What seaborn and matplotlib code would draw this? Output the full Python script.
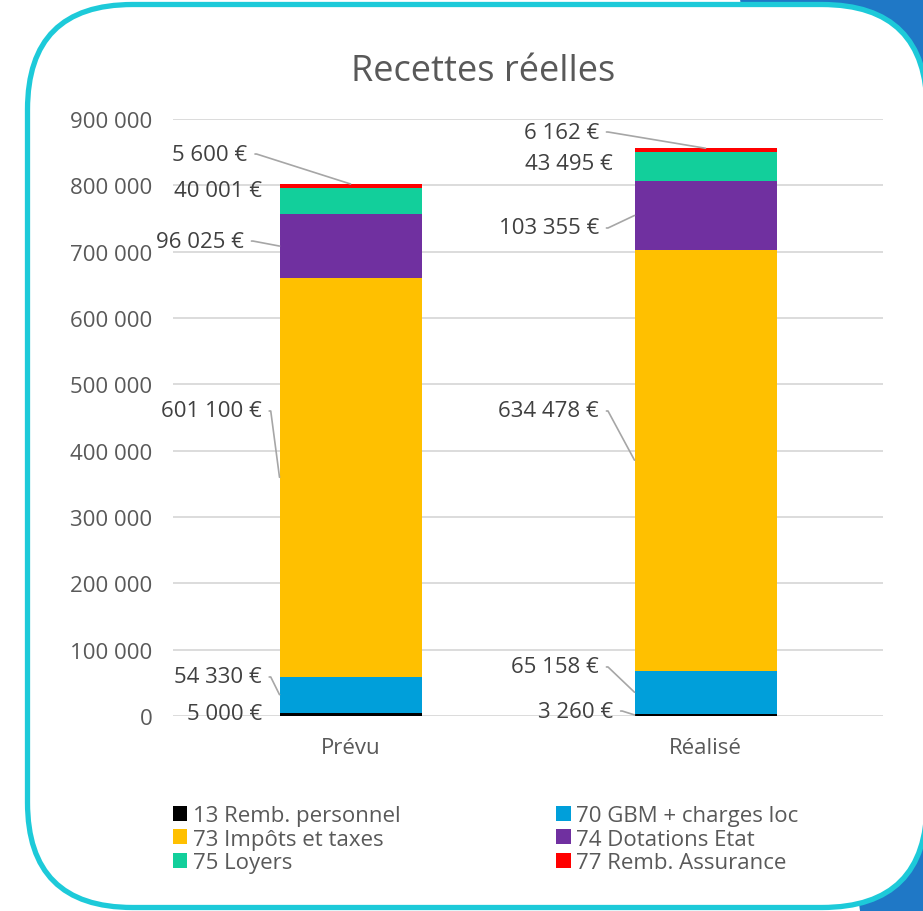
import numpy as np
import pandas as pd
import seaborn as sns
from matplotlib import pyplot as plt
from matplotlib.patches import FancyBboxPatch, Polygon, Patch
from matplotlib.ticker import FuncFormatter

categories = ["Prévu", "Réalisé"]
series = ["13 Remb. personnel", "70 GBM + charges loc", "73 Impôts et taxes",
          "74 Dotations Etat", "75 Loyers", "77 Remb. Assurance"]
remb_personnel = [5000, 3260]
gbm_charges = [54330, 65158]
impots_taxes = [601100, 634478]
dotations_etat = [96025, 103355]
loyers = [40001, 43495]
remb_assurance = [5600, 6162]
colors = ["#000000", "#009FDA", "#FFC000", "#7030A0", "#12CF9B", "#FF0000"]

df = pd.DataFrame({"cat": categories,
                   series[0]: remb_personnel, series[1]: gbm_charges,
                   series[2]: impots_taxes, series[3]: dotations_etat,
                   series[4]: loyers, series[5]: remb_assurance})
tops = df[series].cumsum(axis=1)
bottoms = tops - df[series]

# label placement: (text x, text y, leader target) per series and bar
# target: "top" = top centre of bar, "left" = left edge mid segment, None = no line
label_pos = {
    0: [(-0.25, 4500, None), (0.74, 7500, "left")],
    1: [(-0.25, 58800, "left"), (0.70, 73900, "left")],
    2: [(-0.25, 459800, "left"), (0.70, 459800, "left")],
    3: [(-0.30, 716000, "left"), (0.70, 735700, "left")],
    4: [(-0.25, 791500, None), (0.74, 832200, None)],
    5: [(-0.29, 847200, "top"), (0.70, 880400, "top")],
}

grey = "#595959"
dark = "#404040"
fs = 16
sns.set_style("whitegrid", {"grid.color": "#D9D9D9", "axes.edgecolor": "#D9D9D9"})
plt.rcParams["font.family"] = ["Open Sans", "DejaVu Sans"]

fig = plt.figure(figsize=(9.23, 9.12), dpi=100)
fig.add_artist(Polygon([(7.4, 9.12), (9.23, 9.12), (9.23, 0), (8.6, 0)], closed=True,
                       transform=fig.dpi_scale_trans, facecolor="#1F78C6", edgecolor="none", zorder=-2))
fig.add_artist(FancyBboxPatch((0.275, 0.035), 8.995, 9.03,
                              boxstyle="round,pad=0,rounding_size=1.05",
                              transform=fig.dpi_scale_trans, facecolor="white",
                              edgecolor="#1DCAD9", linewidth=3.8, zorder=-1))

ax = fig.add_axes([173 / 923, 1 - 717 / 912, 710 / 923, 597 / 912])
ax.set_facecolor("none")

bar_w = 0.4
for i in reversed(range(len(series))):
    sns.barplot(x=df["cat"], y=tops[series[i]], color=colors[i], width=bar_w,
                saturation=1, linewidth=0, ax=ax, zorder=3)

ax.set_ylim(0, 900000)
ax.set_yticks(np.arange(0, 900001, 100000))
ax.yaxis.set_major_formatter(FuncFormatter(lambda v, p: f"{int(v):,}".replace(",", " ")))
ax.grid(axis="y", color="#D9D9D9", linewidth=1.3, zorder=0)
ax.grid(axis="x", visible=False)
for s in ax.spines.values():
    s.set_visible(False)
ax.set_xlabel("")
ax.set_ylabel("")
ax.tick_params(axis="y", length=0, pad=15, labelsize=fs, labelcolor=grey)
ax.tick_params(axis="x", length=0, pad=15, labelsize=fs, labelcolor=grey)

for i, name in enumerate(series):
    vals = df[name].values
    for j in range(len(categories)):
        tx, ty, target = label_pos[i][j]
        text = f"{vals[j]:,}".replace(",", " ") + " €"
        if target is None:
            ax.text(tx, ty, text, ha="right", va="center", fontsize=fs, color=dark, zorder=4)
            continue
        if target == "top":
            xy = (j, tops[name][j])
        else:
            xy = (j - bar_w / 2, bottoms[name][j] + vals[j] / 2)
        ax.annotate(text, xy=xy, xytext=(tx, ty), textcoords="data",
                    ha="right", va="center", fontsize=fs, color=dark, zorder=4,
                    arrowprops=dict(arrowstyle="-", color="#A6A6A6", lw=1.2,
                                    shrinkA=3, shrinkB=0, relpos=(1, 0.5),
                                    connectionstyle="arc,angleA=0,armA=9,rad=0"))

fig.text(483 / 923, 1 - 72 / 912, "Recettes réelles", ha="center", va="center",
         fontsize=26, color=grey)

handles = [Patch(facecolor=c, edgecolor="none") for c in colors]
order = [0, 2, 4, 1, 3, 5]
fig.legend([handles[k] for k in order], [series[k] for k in order],
           loc="upper left", bbox_to_anchor=(173 / 923, 1 - 806 / 912), ncol=2,
           frameon=False, fontsize=fs, labelcolor=grey, handlelength=0.65,
           handleheight=0.65, handletextpad=0.25, columnspacing=7.0,
           labelspacing=0.12, borderpad=0, borderaxespad=0)

fig.savefig("out.png", dpi=100)
